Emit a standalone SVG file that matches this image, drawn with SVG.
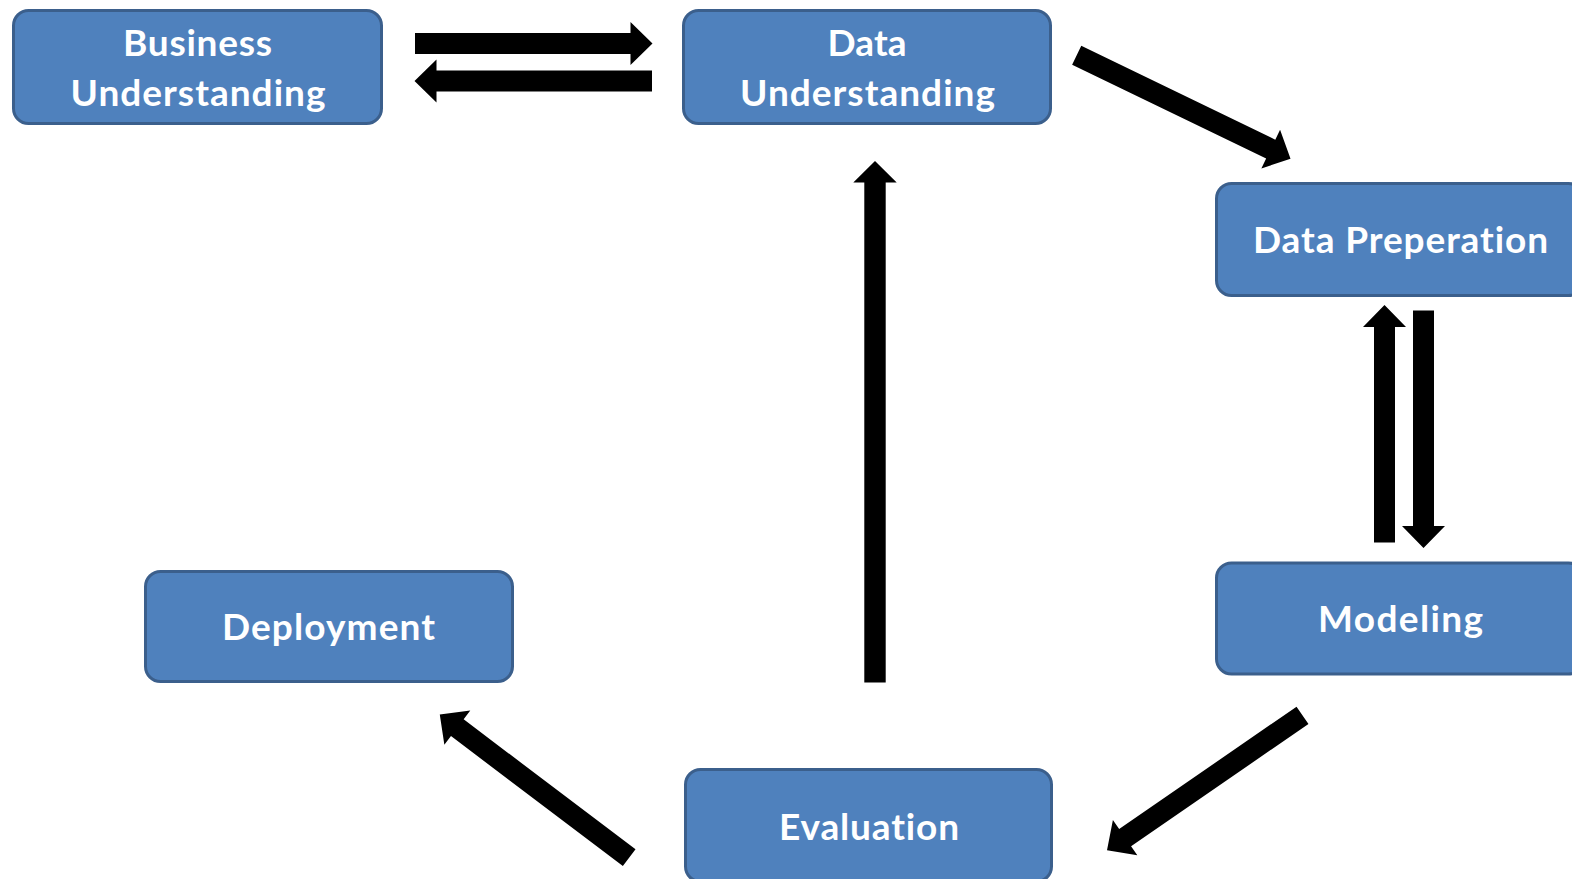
<svg xmlns="http://www.w3.org/2000/svg" xmlns:xlink="http://www.w3.org/1999/xlink" width="1572" height="879" viewBox="0 0 1572 879">
  <style>
    .box { fill: #4f81bd; stroke: #3b5f8c; stroke-width: 3; }
    .label { fill: #ffffff; font-family: Lato, "Open Sans", "Liberation Sans", sans-serif; font-weight: 700; font-size: 37px; text-anchor: middle; font-variant-ligatures: none; font-feature-settings: "liga" 0, "clig" 0; }
    .arrow { fill: #000000; }
  </style>
  <defs>
    <!-- block arrow pointing along +x, tail at origin, length 237.5 -->
    <path id="blockArrow" d="M0,-10.5 H215.5 V-21.5 L237.5,0 L215.5,21.5 V10.5 H0 Z"/>
  </defs>
  <rect width="1572" height="879" fill="#ffffff"/>

  <g id="connectors" class="arrow">
    <use xlink:href="#blockArrow" transform="translate(415,43.5)"/>
    <use xlink:href="#blockArrow" transform="translate(652,81) rotate(180)"/>
    <use xlink:href="#blockArrow" transform="translate(1076.7,55.3) rotate(25.8)"/>
    <use xlink:href="#blockArrow" transform="translate(1384.5,542.5) rotate(-90)"/>
    <use xlink:href="#blockArrow" transform="translate(1423.5,310.5) rotate(90)"/>
    <use xlink:href="#blockArrow" transform="translate(1302.5,715.3) rotate(145.4)"/>
    <use xlink:href="#blockArrow" transform="translate(629.2,857.7) rotate(217.1)"/>
    <path d="M0,-10.7 H500 V-21.7 L521.5,0 L500,21.7 V10.7 H0 Z" transform="translate(875,682.5) rotate(-90)"/>
  </g>

  <g id="business-understanding">
    <rect class="box" x="13.5" y="10.5" width="368" height="113" rx="15"/>
    <text class="label" x="197.5" y="56" textLength="149">Business</text>
    <text class="label" x="198" y="106" textLength="255">Understanding</text>
  </g>

  <g id="data-understanding">
    <rect class="box" x="683.5" y="10.5" width="367" height="113" rx="15"/>
    <text class="label" x="867" y="56" textLength="79">Data</text>
    <text class="label" x="867.5" y="106" textLength="255">Understanding</text>
  </g>

  <g id="data-preperation">
    <rect class="box" x="1216.5" y="183.5" width="367" height="112" rx="15"/>
    <text class="label" x="1400.5" y="253" textLength="295">Data Preperation</text>
  </g>

  <g id="modeling">
    <rect class="box" x="1216.5" y="563" width="367" height="111" rx="15"/>
    <text class="label" x="1400.5" y="632" textLength="165">Modeling</text>
  </g>

  <g id="evaluation">
    <rect class="box" x="685.5" y="769.5" width="366" height="112" rx="15"/>
    <text class="label" x="869" y="840" textLength="180">Evaluation</text>
  </g>

  <g id="deployment">
    <rect class="box" x="145.5" y="571.5" width="367" height="110" rx="15"/>
    <text class="label" x="328.5" y="640" textLength="213">Deployment</text>
  </g>
</svg>
